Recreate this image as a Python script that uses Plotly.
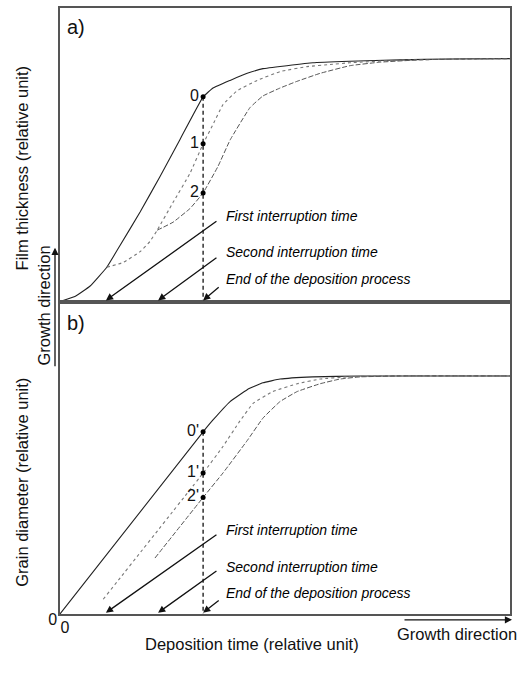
import plotly.graph_objects as go

W, H = 520, 673

# ---------------- data (relative units: time 0..100, y 0..100) ----------------
# Panel a) film thickness
a0_t = [0, 3.3, 6.7, 10.4, 13.3, 17.8, 22.2, 26.7, 31.8, 34.0, 37.8, 41.6, 45.1, 50.4, 56.2, 64.4, 75.6, 86.7, 100]
a0_y = [0, 1.7, 5.3, 11.7, 19.0, 30.5, 42.5, 55.3, 69.7, 72.7, 75.3, 77.7, 79.3, 80.3, 81.3, 81.8, 82.3, 82.6, 82.7]
a1_t = [10.4, 14.0, 17.8, 20.0, 21.6, 25.1, 28.9, 31.8, 34.0, 36.2, 39.3, 43.8, 48.9, 54.9, 60.0, 64.4, 75.6, 86.7, 100]
a1_y = [11.7, 13.3, 17.0, 20.5, 24.3, 33.7, 43.7, 53.7, 60.3, 67.0, 71.7, 75.3, 78.3, 80.0, 80.7, 81.3, 82.2, 82.5, 82.7]
a2_t = [21.6, 25.1, 28.9, 31.8, 35.1, 37.8, 42.2, 45.1, 48.9, 52.7, 57.8, 64.4, 71.1, 80.0, 88.9, 100]
a2_y = [24.3, 27.0, 31.7, 37.0, 46.0, 55.0, 66.0, 70.0, 72.7, 75.0, 77.7, 80.3, 81.5, 82.3, 82.6, 82.7]

# Panel b) grain diameter
b0_t = [0, 31.8, 34.0, 37.8, 41.6, 45.1, 48.9, 56.2, 66.7, 100]
b0_y = [0, 58.3, 62.1, 68.0, 71.8, 74.0, 75.2, 75.9, 76.2, 76.2]
b1_t = [9.6, 31.8, 36.2, 40.0, 42.9, 47.3, 52.7, 57.8, 63.8, 71.1, 100]
b1_y = [4.7, 45.1, 53.6, 61.8, 67.4, 71.2, 73.7, 75.2, 75.9, 76.2, 76.2]
b2_t = [21.1, 31.8, 36.2, 41.6, 45.1, 48.9, 52.7, 57.8, 62.2, 66.7, 75.6, 100]
b2_y = [17.9, 37.3, 45.1, 55.5, 62.7, 68.0, 71.2, 73.7, 75.2, 75.9, 76.2, 76.2]

# times of interruptions / end
event_t = [10.2, 21.8, 31.8]
event_labels = ["First interruption time", "Second interruption time", "End of the deposition process"]
# arrow tails (t, y) and label heights per panel
a_tail_t = [35.1, 35.1, 35.6]
a_tail_y = [27.7, 15.3, 5.3]
a_label_y = [29.3, 17.0, 7.7]
b_tail_t = [35.1, 35.1, 35.6]
b_tail_y = [25.7, 14.1, 4.7]
b_label_y = [27.0, 15.1, 6.6]

# points at end of deposition
a_pt_y = [69.7, 53.7, 37.0]
a_pt_lbl = ["0", "1", "2"]
b_pt_y = [58.3, 45.1, 37.3]
b_pt_lbl = ["0'", "1'", "2'"]

FONT = "Liberation Sans, Arial, Helvetica, sans-serif"


def P(x, y):
    return x / W, 1 - y / H


fig = go.Figure()

solid = dict(color="#222", width=1.1)
dotted = dict(color="#777", width=1.1, dash="dot")
dashed = dict(color="#555", width=1.0, dash="5px,2px")

for xa, ya, curves in [
    ("x", "y", [(a0_t, a0_y, solid), (a1_t, a1_y, dotted), (a2_t, a2_y, dashed)]),
    ("x2", "y2", [(b0_t, b0_y, solid), (b1_t, b1_y, dotted), (b2_t, b2_y, dashed)]),
]:
    for t, y, ln in curves:
        fig.add_trace(go.Scatter(x=t, y=y, mode="lines", line=dict(shape="spline", smoothing=0.3, **ln),
                                 xaxis=xa, yaxis=ya, hoverinfo="skip", showlegend=False))

# vertical dashed line at end of deposition
fig.add_trace(go.Scatter(x=[event_t[2], event_t[2]], y=[a_pt_y[0], 0], mode="lines",
                         line=dict(color="#111", width=1.3, dash="4px,3px"),
                         xaxis="x", yaxis="y", showlegend=False, hoverinfo="skip"))
fig.add_trace(go.Scatter(x=[event_t[2], event_t[2]], y=[b_pt_y[0], 0], mode="lines",
                         line=dict(color="#111", width=1.3, dash="4px,3px"),
                         xaxis="x2", yaxis="y2", showlegend=False, hoverinfo="skip"))

# points with labels
fig.add_trace(go.Scatter(x=[event_t[2]] * 3, y=a_pt_y, mode="markers+text", text=a_pt_lbl,
                         textposition="middle left", textfont=dict(family=FONT, size=16, color="#111"),
                         marker=dict(color="#000", size=5), xaxis="x", yaxis="y", showlegend=False))
fig.add_trace(go.Scatter(x=[event_t[2]] * 3, y=b_pt_y, mode="markers+text", text=b_pt_lbl,
                         textposition="middle left", textfont=dict(family=FONT, size=16, color="#111"),
                         marker=dict(color="#000", size=5), xaxis="x2", yaxis="y2", showlegend=False))

ann = []
for xr, yr, tails_t, tails_y, lab_y in [("x", "y", a_tail_t, a_tail_y, a_label_y),
                                        ("x2", "y2", b_tail_t, b_tail_y, b_label_y)]:
    for i in range(3):
        ann.append(dict(x=event_t[i], y=0.4, xref=xr, yref=yr, ax=tails_t[i], ay=tails_y[i],
                        axref=xr, ayref=yr, showarrow=True, arrowhead=2, arrowsize=1.1,
                        arrowwidth=1.3, arrowcolor="#111", text=""))
        ann.append(dict(x=36.4, y=lab_y[i], xref=xr, yref=yr, xanchor="left", yanchor="middle",
                        showarrow=False, text="<i>" + event_labels[i] + "</i>",
                        font=dict(family=FONT, size=14, color="#000")))

# panel letters
for txt, (px, py) in [("a)", (76, 28)), ("b)", (76, 330))]:
    x, y = P(px, py)
    ann.append(dict(x=x, y=y, xref="paper", yref="paper", text=txt, showarrow=False,
                    xanchor="center", yanchor="middle", font=dict(family=FONT, size=20, color="#111")))

# axis titles
titles = [
    ("Film thickness (relative unit)", 22, 172, -90),
    ("Growth direction", 44, 312, -90),
    ("Grain diameter (relative unit)", 22, 493, -90),
    ("Deposition time (relative unit)", 252, 658, 0),
    ("Growth direction", 457, 647, 0),
]
for txt, px, py, ang in titles:
    x, y = P(px, py)
    ann.append(dict(x=x, y=y, xref="paper", yref="paper", text=txt, showarrow=False, textangle=ang,
                    xanchor="center", yanchor="middle", font=dict(family=FONT, size=16.5, color="#111")))

# growth direction arrows
x, y = P(55, 253)
ann.append(dict(x=x, y=y, xref="paper", yref="paper", ax=0, ay=120, showarrow=True, arrowhead=2,
                arrowsize=1.1, arrowwidth=1.3, arrowcolor="#111", text=""))
x, y = P(512, 633)
ann.append(dict(x=x, y=y, xref="paper", yref="paper", ax=-109, ay=0, showarrow=True, arrowhead=2,
                arrowsize=1.1, arrowwidth=1.3, arrowcolor="#111", text=""))

axis_common = dict(range=[0, 100], showline=True, mirror=True, linecolor="#555", linewidth=1.5,
                   showgrid=False, zeroline=False, showticklabels=False, ticks="", fixedrange=True)

xdom = [60 / W, 510 / W]
fig.update_layout(
    width=W, height=H, margin=dict(l=0, r=0, t=0, b=0),
    paper_bgcolor="white", plot_bgcolor="white", showlegend=False,
    font=dict(family=FONT, color="#111"),
    xaxis=dict(domain=xdom, anchor="y", **axis_common),
    yaxis=dict(domain=[1 - 308 / H, 1 - 8 / H], anchor="x", **axis_common),
    xaxis2=dict(domain=xdom, anchor="y2", **{**axis_common, "showticklabels": True},
                tickvals=[0], ticktext=["0"], ticklabelshift=5, ticklabelstandoff=-2,
                tickfont=dict(family=FONT, size=16, color="#111")),
    yaxis2=dict(domain=[1 - 627 / H, 1 - 308 / H], anchor="x2", **{**axis_common, "showticklabels": True},
                tickvals=[0], ticktext=["0"], ticklabelshift=5, ticklabelstandoff=-2,
                tickfont=dict(family=FONT, size=16, color="#111")),
    annotations=ann,
)

fig.write_html("out.html")
